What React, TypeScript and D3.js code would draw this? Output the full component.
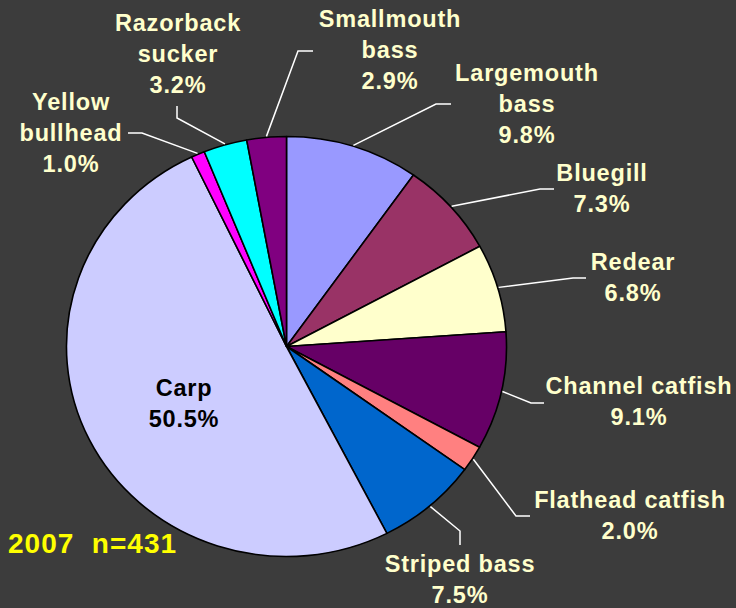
import React from "react";
import * as d3 from "d3";

const species = [
  "Largemouth bass",
  "Bluegill",
  "Redear",
  "Channel catfish",
  "Flathead catfish",
  "Striped bass",
  "Carp",
  "Yellow bullhead",
  "Razorback sucker",
  "Smallmouth bass",
];
const percents = [9.8, 7.3, 6.8, 9.1, 2.0, 7.5, 50.5, 1.0, 3.2, 2.9];
const labelLines = [
  ["Largemouth", "bass"],
  ["Bluegill"],
  ["Redear"],
  ["Channel catfish"],
  ["Flathead catfish"],
  ["Striped bass"],
  ["Carp"],
  ["Yellow", "bullhead"],
  ["Razorback", "sucker"],
  ["Smallmouth", "bass"],
];
const colors = [
  "#9999FF",
  "#993366",
  "#FFFFCC",
  "#660066",
  "#FF8080",
  "#0066CC",
  "#CCCCFF",
  "#FF00FF",
  "#00FFFF",
  "#800080",
];
const footnote = "2007  n=431";

// layout: label anchor (x, first baseline), leader elbow and end
const layout: { x: number; y: number; elbow?: [number, number]; end?: [number, number]; dark?: boolean }[] = [
  { x: 527, y: 81, elbow: [436, 104], end: [451, 104] },
  { x: 602, y: 181, elbow: [540, 189], end: [554, 189] },
  { x: 633, y: 270, elbow: [573, 278], end: [586, 278] },
  { x: 639, y: 394, elbow: [531, 403], end: [544, 403] },
  { x: 630, y: 508, elbow: [516, 516], end: [530, 516] },
  { x: 460, y: 572, elbow: [460, 531], end: [460, 545] },
  { x: 184, y: 396, dark: true },
  { x: 71, y: 110, elbow: [142, 133], end: [128, 133] },
  { x: 178, y: 31, elbow: [177, 118], end: [177, 106] },
  { x: 390, y: 27, elbow: [298, 51], end: [313, 51] },
];

const W = 736;
const H = 608;
const cx = 286.5;
const cy = 346.5;
const rx = 220;
const ry = 210;
const lineH = 31;

export default function App() {
  const pie = d3
    .pie<number>()
    .sort(null)
    .startAngle(0)
    .endAngle(2 * Math.PI)
    .value((d) => d);
  const arcs = pie(percents);
  const arc = d3.arc<d3.PieArcDatum<number>>().innerRadius(0).outerRadius(ry);
  const fmt = d3.format(".1f");
  const font = "'Liberation Sans', Arial, sans-serif";

  return (
    <svg
      width={W}
      height={H}
      style={{ position: "absolute", left: 0, top: 0, background: "#3C3C3C" }}
    >
      <rect x={0} y={0} width={W} height={H} fill="#3C3C3C" />
      <g transform={`translate(${cx},${cy}) scale(${rx / ry},1)`}>
        {arcs.map((a, i) => (
          <path
            key={species[i]}
            d={arc(a) || ""}
            fill={colors[i]}
            stroke="#000"
            strokeWidth={1.6}
            vectorEffect="non-scaling-stroke"
            strokeLinejoin="round"
          />
        ))}
      </g>
      {arcs.map((a, i) => {
        const L = layout[i];
        if (!L.elbow || !L.end) return null;
        const m = (a.startAngle + a.endAngle) / 2;
        const sx = cx + (rx + 1) * Math.sin(m);
        const sy = cy - (ry + 1) * Math.cos(m);
        return (
          <polyline
            key={"l" + i}
            points={`${sx},${sy} ${L.elbow[0]},${L.elbow[1]} ${L.end[0]},${L.end[1]}`}
            fill="none"
            stroke="#FFFFFF"
            strokeWidth={1.5}
          />
        );
      })}
      {species.map((s, i) => {
        const L = layout[i];
        const lines = [...labelLines[i], fmt(percents[i]) + "%"];
        return (
          <text
            key={"t" + s}
            x={L.x}
            y={L.y}
            textAnchor="middle"
            fontFamily={font}
            fontWeight="bold"
            fontSize={23.5}
            letterSpacing={0.8}
            fill={L.dark ? "#000000" : "#FFFFCC"}
          >
            {lines.map((t, k) => (
              <tspan key={k} x={L.x} y={L.y + k * lineH}>
                {t}
              </tspan>
            ))}
          </text>
        );
      })}
      <text
        x={8}
        y={553}
        fontFamily={font}
        fontWeight="bold"
        fontSize={28}
        letterSpacing={1}
        fill="#FFFF00"
        style={{ whiteSpace: "pre" }}
      >
        {footnote}
      </text>
    </svg>
  );
}
